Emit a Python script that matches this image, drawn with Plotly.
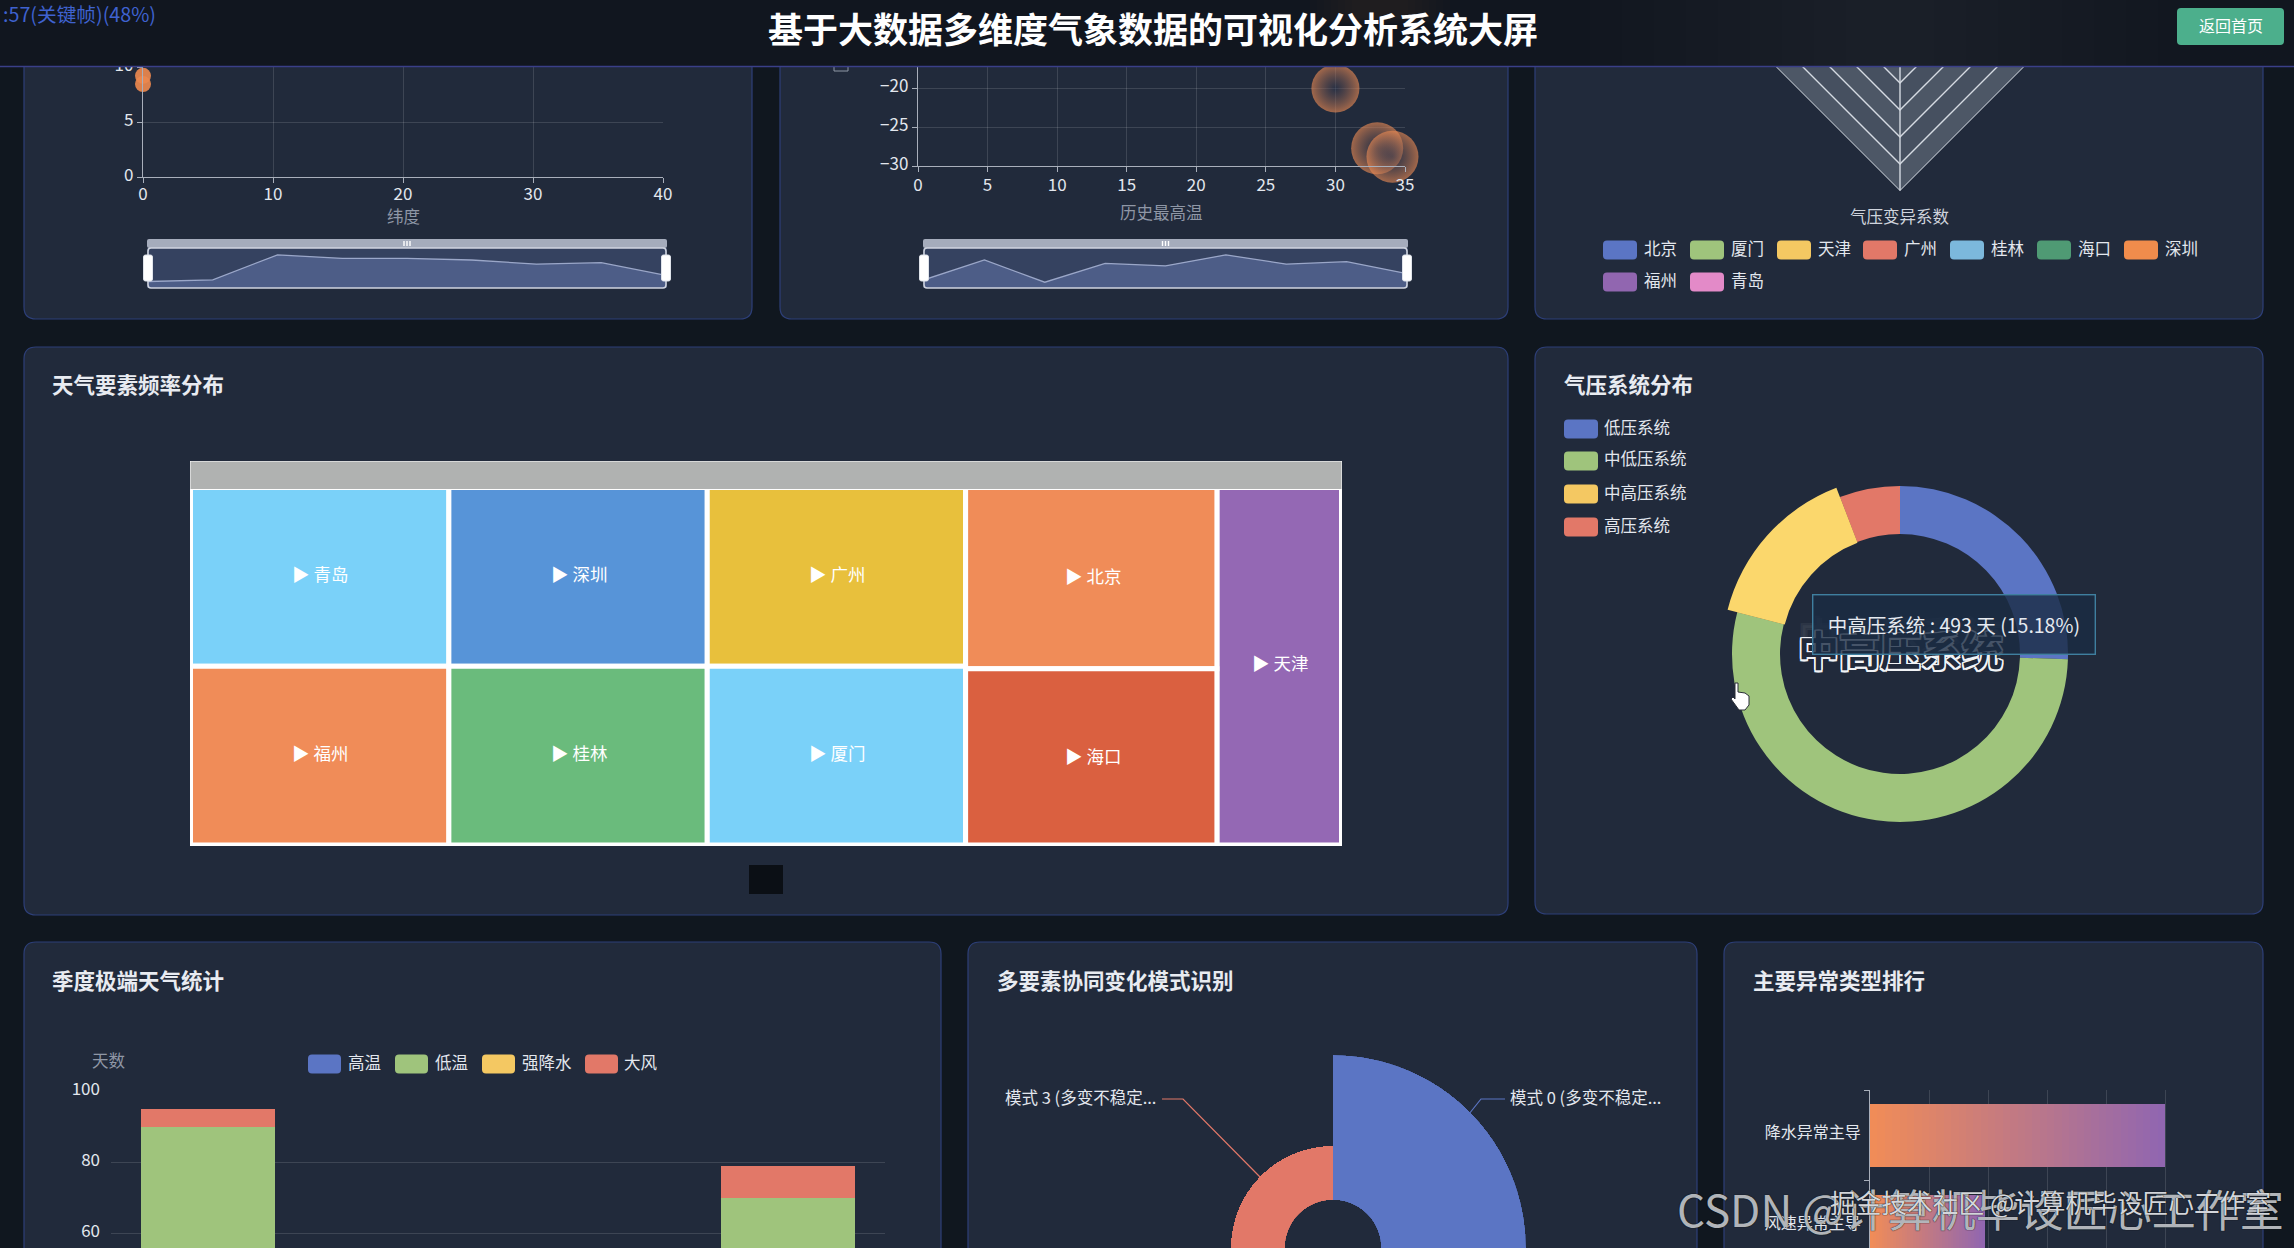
import plotly.graph_objects as go

W, H = 2294, 1248
FONT = '"Noto Sans CJK SC", "Noto Sans", sans-serif'

# ---------- data ----------
scatter_lat = [0, 0]
scatter_val = [8.45, 9.2]
mini_lat = [6.5, 8.2, 33.2, 29.7, 29.7, 28, 23.9, 25.3, 12.6]

bubble_x = [30, 33, 34.1]
bubble_y = [-20, -27.7, -28.8]
bubble_size = [48, 52, 52]
mini_high = [8.2, 28, 5.8, 24.6, 22.2, 33.2, 23.9, 26.3, 14.4]

cities = ["北京", "厦门", "天津", "广州", "桂林", "海口", "深圳", "福州", "青岛"]
city_colors = ["#5b75c4", "#9fc47c", "#f4c862", "#e27868", "#7cb8dc", "#4f9a74", "#f08c4c", "#9166b0", "#e38ac8"]
radar_axes = ["温度变异系数", "风速变异系数", "气压变异系数", "降水变异系数"]
radar_values = {
    "北京": [.42, .30, .02, .45], "厦门": [.20, .25, .01, .38], "天津": [.40, .28, .02, .44],
    "广州": [.18, .22, .01, .36], "桂林": [.25, .20, .01, .33], "海口": [.12, .26, .01, .41],
    "深圳": [.17, .24, .01, .39], "福州": [.24, .23, .01, .35], "青岛": [.33, .27, .02, .43],
}
ring_levels = [.5, .4, .3, .2, .1]

tree_cols = [["青岛", "福州"], ["深圳", "桂林"], ["广州", "厦门"], ["北京", "海口"], ["天津"]]
tree_vals = {"青岛": 365, "福州": 365, "深圳": 365, "桂林": 365, "广州": 365, "厦门": 365, "北京": 360, "海口": 350, "天津": 352}
tree_colors = {"青岛": "#7ad1f9", "福州": "#f08c58", "深圳": "#5794d8", "桂林": "#6abb7c", "广州": "#e8c03c",
               "厦门": "#7ad1f9", "北京": "#f08c58", "海口": "#da6040", "天津": "#9468b4"}
tree_label_pos = {"青岛": (320, 575), "福州": (320, 754), "深圳": (579, 575), "桂林": (579, 754), "广州": (837, 575),
                  "厦门": (837, 754), "北京": (1093, 577), "海口": (1093, 757), "天津": (1280, 664)}

pressure_names = ["低压系统", "中低压系统", "中高压系统", "高压系统"]
pressure_days = [828, 1738, 493, 189]
pressure_colors = ["#5b75c4", "#9fc47c", "#f4c862", "#e27868"]

seasons = ["第一季度", "第二季度", "第三季度", "第四季度"]
extreme_names = ["高温", "低温", "强降水", "大风"]
extreme_colors = ["#5b75c4", "#9fc47c", "#f4c862", "#e27868"]
extreme_vals = [[0, 22, 41, 0], [90, 0, 0, 70], [0, 9, 8, 0], [5, 6, 4, 9]]

modes = ["模式 0", "模式 1", "模式 2", "模式 3"]
mode_vals = [1450, 720, 530, 540]
mode_colors = ["#5b75c4", "#9fc47c", "#f4c862", "#e27868"]

anomaly_names = ["降水异常主导", "风速异常主导"]
anomaly_vals = [250, 97.5]

# ---------- helpers ----------
TXT = "#e3e7ee"
MUTED = "#8f97a6"
GRID = "rgba(255,255,255,0.13)"
AXIS = "#a9afbb"
px = lambda x: x / W
py = lambda y: 1 - y / H
shapes, ann = [], []


def rr(x0, y0, x1, y1, r):
    a, b, c, d = px(x0), py(y0), px(x1), py(y1)
    rx, ry = r / W, r / H
    return (f"M{a+rx},{b} L{c-rx},{b} Q{c},{b} {c},{b-ry} L{c},{d+ry} Q{c},{d} {c-rx},{d} "
            f"L{a+rx},{d} Q{a},{d} {a},{d+ry} L{a},{b-ry} Q{a},{b} {a+rx},{b} Z")


def box(x0, y0, x1, y1, fill, line=None, lw=0, r=0, layer="below"):
    shapes.append(dict(type="path", xref="paper", yref="paper", path=rr(x0, y0, x1, y1, r), fillcolor=fill,
                       line=dict(color=line or "rgba(0,0,0,0)", width=lw), layer=layer))


def poly(pts, fill=None, line=None, lw=1, closed=False, layer="above"):
    d = "M" + " L".join(f"{px(x)},{py(y)}" for x, y in pts) + (" Z" if closed else "")
    shapes.append(dict(type="path", xref="paper", yref="paper", path=d, fillcolor=fill or "rgba(0,0,0,0)",
                       line=dict(color=line or "rgba(0,0,0,0)", width=lw), layer=layer))


def text(x, y, s, size=16, color=TXT, anchor="left", bold=False, **kw):
    dx = {"left": -2, "right": 2, "center": 0}[anchor]
    ann.append(dict(x=px(x + dx), y=py(y - 1.5), xref="paper", yref="paper", text=f"<b>{s}</b>" if bold else s,
                    showarrow=False, xanchor=anchor, yanchor="middle",
                    font=dict(size=size, color=color, family=FONT, **kw.pop("font", {})), **kw))


def swatch(x, y0, y1, color, w=34):
    box(x, y0, x + w, y1, color, r=4, layer="above")


# ---------- panels ----------
PANEL, EDGE = "#212a3b", "#2d3f78"
for p in [(24, -20, 752, 319), (780, -20, 1508, 319), (1535, -20, 2263, 319), (24, 347, 1508, 915),
          (1535, 347, 2263, 914), (24, 942, 941, 1290), (968, 942, 1697, 1290), (1724, 942, 2263, 1290)]:
    box(*p, PANEL, EDGE, 1.2, 12)
for x, y, s in [(52, 385, "天气要素频率分布"), (1564, 385, "气压系统分布"), (52, 981, "季度极端天气统计"),
                (997, 981, "多要素协同变化模式识别"), (1753, 981, "主要异常类型排行")]:
    text(x, y, s, 21.5, "#e8ebf1", bold=True)

fig = go.Figure()
axcommon = dict(showline=True, linecolor=AXIS, linewidth=1.4, ticks="outside", ticklen=5, tickcolor=AXIS,
                gridcolor=GRID, zeroline=False, tickfont=dict(size=17, color=TXT, family=FONT))

# ---------- scatter A ----------
fig.add_trace(go.Scatter(x=scatter_lat, y=scatter_val, mode="markers", xaxis="x", yaxis="y", cliponaxis=False,
                         marker=dict(size=16, color="rgba(236,136,78,0.92)", line=dict(width=0))))
fig.update_layout(
    xaxis=dict(domain=[px(143), px(663)], range=[0, 40], dtick=10, anchor="y", ticklabelstandoff=-4, **axcommon),
    yaxis=dict(domain=[py(177), py(67)], range=[0, 10], dtick=5, anchor="x", ticklabelshift=-2, **axcommon))
text(403, 217, "纬度", 16.5, MUTED, "center")

# ---------- bubble B ----------
fig.add_trace(go.Scatter(x=bubble_x, y=bubble_y, mode="markers", xaxis="x2", yaxis="y2", cliponaxis=False,
                         marker=dict(size=bubble_size, color="rgba(238,140,84,0.90)", line=dict(width=0),
                                     gradient=dict(type="radial", color="rgba(52,58,82,0.60)"))))
fig.update_layout(
    xaxis2=dict(domain=[px(918), px(1405)], range=[0, 35], dtick=5, anchor="y2", ticklabelstandoff=-2, **axcommon),
    yaxis2=dict(domain=[py(166), py(58)], range=[-30, -16.06], tick0=-30, dtick=5, anchor="x2", ticklabelshift=-2, **axcommon))
text(1161, 213, "历史最高温", 16.5, MUTED, "center")
poly([(834, 67), (834, 71), (848, 71), (848, 67)], line=MUTED, lw=1, layer="below")


# ---------- mini sliders ----------
def mini(vals, x0, x1, n):
    box(x0, 248, x1, 288, "rgba(66,80,120,0.62)")
    box(x0, 239, x1, 248, "#a5acbc", r=2, layer="above")
    fig.add_trace(go.Scatter(x=list(range(len(vals))), y=vals, mode="lines", xaxis=f"x{n}", yaxis=f"y{n}",
                             fill="tozeroy", fillcolor="rgba(112,132,190,0.42)",
                             line=dict(color="rgba(170,182,215,0.85)", width=1.3)))
    off = dict(visible=False, fixedrange=True)
    fig.update_layout(**{f"xaxis{n}": dict(domain=[px(x0 + 1), px(x1 - 1)], range=[0, 8], anchor=f"y{n}", **off),
                         f"yaxis{n}": dict(domain=[py(288), py(248)], range=[0, 40], anchor=f"x{n}", **off)})
    box(x0 + 1, 248, x1 - 1, 288, "rgba(0,0,0,0)", "#cfd4df", 1.6, 3, "above")
    for hx in (x0 + 1, x1 - 1):
        box(hx - 4.5, 255, hx + 4.5, 281, "#ffffff", "#dfe3ea", 1, 2, "above")
    mid = (x0 + x1) / 2
    for dx in (-3, 0, 3):
        box(mid + dx - .7, 241, mid + dx + .7, 246, "#ffffff", layer="above")


mini(mini_lat, 147, 667, 3)
mini(mini_high, 923, 1408, 4)

# ---------- radar ----------
polar_off = dict(showticklabels=False, ticks="", showline=False, showgrid=False)
fig.update_layout(polar=dict(
    domain=dict(x=[px(1765), px(2035)], y=[py(191), py(56)]), sector=[180, 360], gridshape="linear",
    bgcolor="rgba(0,0,0,0)",
    angularaxis=dict(direction="clockwise", rotation=90, type="category", categoryarray=radar_axes, **polar_off),
    radialaxis=dict(range=[0, .5], **polar_off)))
for i, lv in enumerate(ring_levels):
    fig.add_trace(go.Scatterpolar(r=[lv] * 5, theta=radar_axes + radar_axes[:1], mode="lines", fill="toself",
                                  fillcolor="#4d5766" if i % 2 == 0 else "#465060",
                                  line=dict(color="#d5dae2", width=1.4), subplot="polar"))
fig.add_trace(go.Scatterpolar(r=[0, ring_levels[0]], theta=[radar_axes[2]] * 2, mode="lines",
                              line=dict(color="#d5dae2", width=1.4), subplot="polar"))
for c, col in zip(cities, city_colors):
    v = radar_values[c]
    fig.add_trace(go.Scatterpolar(r=v + v[:1], theta=radar_axes + radar_axes[:1], mode="lines", name=c,
                                  line=dict(color=col, width=1.5), subplot="polar"))
text(1900, 217, radar_axes[2], 16.5, "#cfd4dd", "center")
leg_x = [1603, 1690, 1777, 1863, 1950, 2037, 2124, 1603, 1690]
leg_y = [250, 250, 250, 250, 250, 250, 250, 282, 282]
for c, col, x, y in zip(cities, city_colors, leg_x, leg_y):
    swatch(x, y - 9.5, y + 9.5, col)
    text(x + 41, y - 1, c, 16.5)

# ---------- treemap ----------
box(190, 461, 1342, 846, "#ffffff")
box(190.5, 461.5, 1341.5, 489, "#b0b2b1", layer="above")
for strip in [(184, 455, 190, 852), (1342, 455, 1348, 852), (184, 846, 1348, 852)]:
    box(*strip, PANEL, layer="above")
box(749, 865, 783, 894, "#0b0f15")
t_ids, t_par, t_val, t_col, t_lw = ["root"], [""], [sum(tree_vals.values())], ["#ffffff"], [0]
for i, col in enumerate(tree_cols):
    if len(col) > 1:
        t_ids.append(f"c{i}"); t_par.append("root"); t_val.append(sum(tree_vals[c] for c in col))
        t_col.append("#ffffff"); t_lw.append(0)
    for c in col:
        t_ids.append(c); t_par.append(f"c{i}" if len(col) > 1 else "root"); t_val.append(tree_vals[c])
        t_col.append(tree_colors[c]); t_lw.append(5)
        text(*tree_label_pos[c], "▶ " + c, 17.5, "#ffffff", "center")
fig.add_trace(go.Treemap(ids=t_ids, labels=t_ids, parents=t_par, values=t_val, branchvalues="total",
                         sort=False, textinfo="none",
                         domain=dict(x=[px(190.5), px(1341.5)], y=[py(845), py(487.5)]),
                         tiling=dict(packing="slice-dice", pad=0),
                         marker=dict(colors=t_col, line=dict(color="#ffffff", width=t_lw), pad=dict(t=0, l=0, r=0, b=0)),
                         pathbar=dict(visible=False), root=dict(color="#ffffff"), hoverinfo="skip"))

# ---------- donut ----------
fig.add_trace(go.Pie(labels=pressure_names, values=pressure_days, hole=120 / 168, sort=False, direction="clockwise",
                     rotation=0, marker=dict(colors=pressure_colors, line=dict(width=0)), textinfo="none",
                     domain=dict(x=[px(1732), px(2068)], y=[py(822), py(486)]), hoverinfo="skip"))
fig.add_trace(go.Pie(labels=pressure_names, values=pressure_days, hole=119 / 178, sort=False, direction="clockwise",
                     rotation=0, marker=dict(colors=["rgba(0,0,0,0)", "rgba(0,0,0,0)", "#fbd76c", "rgba(0,0,0,0)"],
                                             line=dict(width=0)), textinfo="none",
                     domain=dict(x=[px(1722), px(2078)], y=[py(832), py(476)]), hoverinfo="skip"))
for n, y in zip(pressure_names, [429, 461, 494, 527]):
    i = pressure_names.index(n)
    swatch(1564, y - 9.5, y + 9.5, pressure_colors[i])
    text(1604, y - 1, n, 16.5)
OUT = ("1.5px 1.5px 0 #f2f4f7, -1.5px -1.5px 0 #f2f4f7, 1.5px -1.5px 0 #f2f4f7, -1.5px 1.5px 0 #f2f4f7, "
       "0 1.5px 0 #f2f4f7, 0 -1.5px 0 #f2f4f7, 1.5px 0 0 #f2f4f7, -1.5px 0 0 #f2f4f7")
text(1900, 635, pressure_names[2], 41, "rgba(33,42,59,0.2)", "center", True, font=dict(shadow="1px 1px 0 #6b7280, -1px -1px 0 #6b7280"))
text(1900, 649, pressure_names[2], 41, PANEL, "center", True, font=dict(shadow=OUT))
ann.append(dict(x=px(1953.5), y=py(624), xref="paper", yref="paper", showarrow=False, xanchor="center", yanchor="middle",
                width=279, height=56, bgcolor="rgba(26,44,68,0.80)", bordercolor="#3f7f9f", borderwidth=1.4,
                text=f"{pressure_names[2]} : {pressure_days[2]} 天 (15.18%)", align="center",
                font=dict(size=19.5, color="#e6eaf0", family=FONT)))
poly([(1735, 683), (1738, 683), (1738, 692), (1745, 693), (1749, 696), (1749, 705), (1745, 710), (1739, 710), (1731, 699),
      (1733, 697), (1735, 699)], fill="#ffffff", line="#2a2f38", lw=1, closed=True)

# ---------- stacked bars ----------
for name, col, v in zip(extreme_names, extreme_colors, extreme_vals):
    fig.add_trace(go.Bar(x=seasons, y=v, name=name, marker=dict(color=col, line=dict(width=0)), xaxis="x5", yaxis="y5"))
fig.update_layout(
    xaxis5=dict(domain=[px(111), px(885)], type="category", visible=False, anchor="y5"),
    yaxis5=dict(domain=[py(1248), py(1091)], range=[55.8, 100], tickvals=[60, 80, 100], anchor="x5", zeroline=False,
                gridcolor=GRID, showline=False, ticks="", ticklabelstandoff=10, ticklabelshift=-2,
                tickfont=dict(size=17, color=TXT, family=FONT)))
text(109, 1061, "天数", 16.5, MUTED, "center")
for n, col, x, tx in zip(extreme_names, extreme_colors, [308, 395, 482, 585], [348, 435, 522, 624]):
    swatch(x, 1054.5, 1073.5, col, 33)
    text(tx, 1063, n, 16.5)

# ---------- rose ----------
fig.add_trace(go.Barpolar(r=mode_vals, theta=[45, 135, 225, 315], width=[90] * 4, text=modes, subplot="polar2",
                          marker=dict(color=mode_colors, line=dict(width=0)), hoverinfo="skip"))
fig.update_layout(polar2=dict(
    domain=dict(x=[px(1140), px(1526)], y=[0, py(1055)]), sector=[0, 180], hole=48 / 193, bgcolor="rgba(0,0,0,0)",
    angularaxis=dict(direction="clockwise", rotation=90, visible=False),
    radialaxis=dict(range=[0, mode_vals[0]], visible=False)))
text(1510, 1098, modes[0] + " (多变不稳定...", 16.5)
text(1156, 1098, modes[3] + " (多变不稳定...", 16.5, TXT, "right")
poly([(1505, 1099), (1481, 1099), (1469, 1114)], line="#5b75c4", lw=1.2)
poly([(1162, 1099), (1183, 1099), (1261, 1178)], line="#e27868", lw=1.2)

# ---------- gradient hbars ----------
N = 40
c0, c1 = (240, 140, 88), (145, 102, 176)
for i in range(N):
    t = i / (N - 1)
    col = "rgb(%d,%d,%d)" % tuple(round(a + (b - a) * t) for a, b in zip(c0, c1))
    fig.add_trace(go.Bar(y=anomaly_names, x=[v / N for v in anomaly_vals], orientation="h", xaxis="x6", yaxis="y6",
                         marker=dict(color=col, line=dict(width=0)), hoverinfo="skip"))
fig.update_layout(
    xaxis6=dict(domain=[px(1870), px(2224)], range=[0, 300], dtick=50, showticklabels=False, ticks="", gridcolor=GRID,
                zeroline=False, anchor="y6"),
    yaxis6=dict(domain=[py(1248), py(1090)], type="category", categoryorder="array", categoryarray=anomaly_names,
                range=[1.24, -0.5], anchor="x6", showline=True, linecolor=AXIS, linewidth=1.2, ticks="outside",
                ticklen=5, tickcolor=AXIS, tickson="boundaries", ticklabelstandoff=5, ticklabelshift=3,
                tickfont=dict(size=16, color=TXT, family=FONT)))

# ---------- header (covers what scrolled under it) ----------
shapes.append(dict(type="rect", xref="paper", yref="paper", x0=0, x1=1, y0=py(66), y1=1, fillcolor="#11161f",
                   line=dict(width=0), layer="above"))
for cx, hw, y1, rgb, a in [(1890, 300 - 32 * k, 66, "120,100,110", .018) for k in range(9)] + \
                          [(1380, 70 - 7 * k, 24 - k, "150,95,55", .02) for k in range(7)]:
    shapes.append(dict(type="rect", xref="paper", yref="paper", x0=px(cx - hw), x1=px(cx + hw), y0=py(y1), y1=1,
                       fillcolor=f"rgba({rgb},{a})", line=dict(width=0), layer="above"))
shapes.append(dict(type="line", xref="paper", yref="paper", x0=0, x1=1, y0=py(66.5), y1=py(66.5),
                   line=dict(color="#3a3f88", width=1.6), layer="above"))
text(1153, 28.5, "基于大数据多维度气象数据的可视化分析系统大屏", 35, "#ffffff", "center", True)
text(3, 15, ":57(关键帧)(48%)", 19.7, "#3f62cf")
box(2177, 8, 2284, 45, "#4caf8c", r=4, layer="above")
text(2230.5, 27, "返回首页", 16, "#ffffff", "center")

# ---------- watermark ----------
WM = "0 0 1px #111, 0 0 1px #111"
text(1677, 1209, "CSDN @计算机毕设匠心工作室", 44, "rgba(222,226,232,0.80)", font=dict(shadow=WM))
text(1830, 1203, "掘金技术社区 @计算机毕设匠心工作室", 25.7, "rgba(232,235,240,0.92)", font=dict(shadow=WM))

fig.update_layout(width=W, height=H, margin=dict(l=0, r=0, t=0, b=0, autoexpand=False), paper_bgcolor="#10171f",
                  plot_bgcolor="rgba(0,0,0,0)", barmode="stack", bargap=0.31, showlegend=False, shapes=shapes,
                  annotations=ann, hovermode=False, font=dict(family=FONT))
fig.write_html("out.html", config=dict(displayModeBar=False),
               post_script="document.body.style.margin='0';document.documentElement.style.overflow='hidden';")
